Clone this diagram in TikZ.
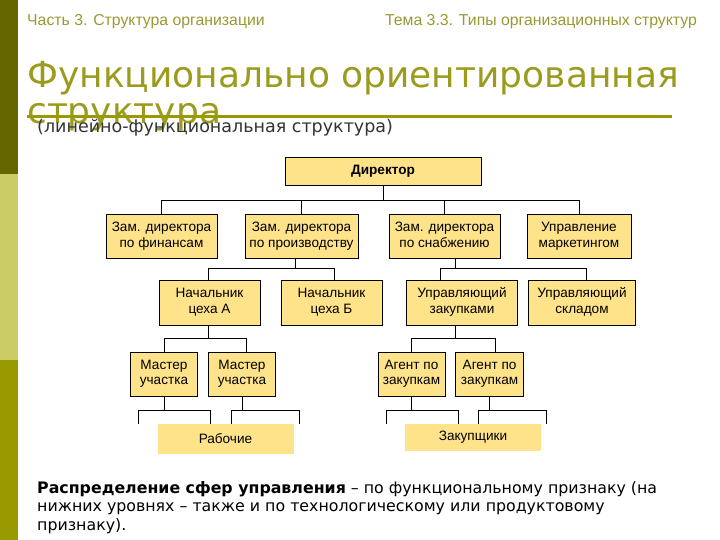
\documentclass[tikz,border=0pt]{standalone}
\usepackage{fontspec}
\setmainfont{Liberation Sans}
\newfontfamily\dejavu{DejaVu Sans}
\definecolor{bardark}{HTML}{666600}
\definecolor{barlight}{HTML}{CCCC66}
\definecolor{barmid}{HTML}{999900}
\definecolor{olivetxt}{HTML}{999933}
\definecolor{titlecol}{HTML}{9B9B1E}
\definecolor{boxfill}{HTML}{FFE38A}
\definecolor{subcol}{HTML}{333333}
\tikzset{
  orgbox/.style={draw=black, line width=0.8pt, fill=boxfill, align=center, inner sep=0pt,
     font=\fontsize{13.6}{15.5}\selectfont, text=black},
  groupbox/.style={fill=boxfill, align=center, inner sep=0pt, font=\fontsize{13.6}{15.5}\selectfont},
  conn/.style={line width=0.8pt, draw=black},
  hdr/.style={text=olivetxt, font=\fontsize{15.8}{18}\selectfont, inner sep=0pt},
}
\begin{document}
\begin{tikzpicture}[x=1pt,y=-1pt]
\useasboundingbox (0,0) rectangle (720,540);
\fill[white] (0,0) rectangle (720,540);
% left bar
\fill[bardark] (0,0) rectangle (18,174);
\fill[barlight] (0,174) rectangle (18,360);
\fill[barmid] (0,360) rectangle (18,540);
% header
\node[hdr, anchor=west] (hl) at (27,22) {Часть 3. Структура организации};
\node[hdr, anchor=east] (hr) at (697,22) {Тема 3.3. Типы организационных структур};
% title
\node[anchor=base west, text=titlecol, font=\dejavu\fontsize{36}{40}\selectfont, inner sep=0pt] (t1) at (27,88) {Функционально ориентированная};
\node[anchor=base west, text=titlecol, font=\dejavu\fontsize{36}{40}\selectfont, inner sep=0pt] (t2) at (27,124) {структура};
\draw[barmid, line width=3pt] (27,117) -- (672,117);
\node[anchor=west, text=subcol, font=\dejavu\fontsize{17.5}{20}\selectfont, inner sep=0pt] (sub) at (37,128) {(линейно-функциональная структура)};
% org chart
\node[orgbox, minimum width=196pt, minimum height=28pt, font=\bfseries\fontsize{13.6}{15.5}\selectfont] (dir) at (383,171) {Директор};
\node[orgbox, minimum width=111pt, minimum height=44pt] (z1) at (161.5,236.5) {\strut Зам. директора\\по финансам\strut};
\node[orgbox, minimum width=113pt, minimum height=44pt] (z2) at (301.5,236.5) {\strut Зам. директора\\по производству\strut};
\node[orgbox, minimum width=111pt, minimum height=44pt] (z3) at (444.5,236.5) {\strut Зам. директора\\по снабжению\strut};
\node[orgbox, minimum width=104pt, minimum height=44pt] (z4) at (579,236.5) {\strut Управление\\маркетингом\strut};
\node[orgbox, minimum width=101pt, minimum height=45pt] (n1) at (209.5,302.5) {\strut Начальник\\цеха А\strut};
\node[orgbox, minimum width=101pt, minimum height=45pt] (n2) at (331.5,302.5) {\strut Начальник\\цеха Б\strut};
\node[orgbox, minimum width=111.5pt, minimum height=45pt] (u1) at (462,302.5) {\strut Управляющий\\закупками\strut};
\node[orgbox, minimum width=107.5pt, minimum height=45pt] (u2) at (582,302.5) {\strut Управляющий\\складом\strut};
\node[orgbox, minimum width=67pt, minimum height=44pt] (m1) at (164,374) {\strut Мастер\\участка\strut};
\node[orgbox, minimum width=67.6pt, minimum height=44pt] (m2) at (242,374) {\strut Мастер\\участка\strut};
\node[orgbox, minimum width=67pt, minimum height=44pt] (a1) at (411.5,374) {\strut Агент по\\закупкам\strut};
\node[orgbox, minimum width=68pt, minimum height=44pt] (a2) at (489.6,374) {\strut Агент по\\закупкам\strut};
\node[groupbox, minimum width=136pt, minimum height=30pt] (rab) at (225.5,439) {Рабочие};
\node[groupbox, minimum width=136pt, minimum height=27pt] (zak) at (473,437.5) {Закупщики};
% level 1 bus
\coordinate (b1) at (0,200);
\draw[conn] (dir.south) -- (dir.south |- b1);
\draw[conn] (z1.north) -- (z1.north |- b1) -- (z4.north |- b1) -- (z4.north);
\draw[conn] (z2.north) -- (z2.north |- b1);
\draw[conn] (z3.north) -- (z3.north |- b1);
% level 2 buses
\coordinate (j2) at (295,268);
\coordinate (j3) at (455.6,268);
\coordinate (n1t) at (208,268);
\coordinate (n2t) at (334,268);
\coordinate (u1t) at (440.5,268);
\coordinate (u2t) at (586,268);
\draw[conn] (z2.south -| j2) -- (j2);
\draw[conn] (n1.north -| n1t) -- (n1t) -- (n2t) -- (n2.north -| n2t);
\draw[conn] (z3.south -| j3) -- (j3);
\draw[conn] (u1.north -| u1t) -- (u1t) -- (u2t) -- (u2.north -| u2t);
% level 3 buses
\coordinate (k1) at (208,338);
\coordinate (m1t) at (164.5,338);
\coordinate (m2t) at (246.6,338);
\draw[conn] (n1.south -| k1) -- (k1);
\draw[conn] (m1.north -| m1t) -- (m1t) -- (m2t) -- (m2.north -| m2t);
\coordinate (k2) at (455.6,338);
\coordinate (a1t) at (411.5,338);
\coordinate (a2t) at (495,338);
\draw[conn] (u1.south -| k2) -- (k2);
\draw[conn] (a1.north -| a1t) -- (a1t) -- (a2t) -- (a2.north -| a2t);
% bottom brackets
\coordinate (p1) at (164.5,410.5);
\coordinate (p1l) at (138,410.5);
\coordinate (p1r) at (210.8,410.5);
\draw[conn] (m1.south -| p1) -- (p1);
\draw[conn] (rab.north -| p1l) -- (p1l) -- (p1r) -- (rab.north -| p1r);
\coordinate (p2) at (242,410.5);
\coordinate (p2l) at (231,410.5);
\coordinate (p2r) at (299,410.5);
\draw[conn] (m2.south -| p2) -- (p2);
\draw[conn] (rab.north -| p2l) -- (p2l) -- (p2r) -- (rab.north -| p2r);
\coordinate (p3) at (411.5,410.5);
\coordinate (p3l) at (386.8,410.5);
\coordinate (p3r) at (458.5,410.5);
\draw[conn] (a1.south -| p3) -- (p3);
\draw[conn] (zak.north -| p3l) -- (p3l) -- (p3r) -- (zak.north -| p3r);
\coordinate (p4) at (489.6,410.5);
\coordinate (p4l) at (478,410.5);
\coordinate (p4r) at (546,410.5);
\draw[conn] (a2.south -| p4) -- (p4);
\draw[conn] (zak.north -| p4l) -- (p4l) -- (p4r) -- (zak.north -| p4r);
% bottom text
\node[anchor=north west, align=left, inner sep=0pt, text=black, font=\dejavu\fontsize{15.8}{18.5}\selectfont] (desc) at (37,481)
 {\textbf{Распределение сфер управления} – по функциональному признаку (на\\нижних уровнях – также и по технологическому или продуктовому\\признаку).};
\end{tikzpicture}
\end{document}
